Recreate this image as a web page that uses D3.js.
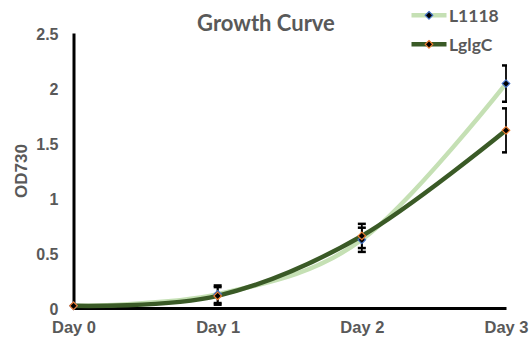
<!DOCTYPE html>
<html>
<head>
<meta charset="utf-8">
<script src="https://cdn.jsdelivr.net/npm/d3@7"></script>
<style>
  html, body { margin: 0; padding: 0; background: #fff; }
  svg { display: block; }
</style>
</head>
<body>
<svg id="chart" width="529" height="341"></svg>
<script>
// Optical density over four days for two strains (mean ± error)
const days = ["Day 0", "Day 1", "Day 2", "Day 3"];
const l1118Values = [0.02, 0.125, 0.62, 2.04];
const l1118Errors = [0, 0.08, 0.11, 0.165];
const lglgcValues = [0.02, 0.11, 0.655, 1.615];
const lglgcErrors = [0, 0.08, 0.11, 0.2];
const yTicks = [0, 0.5, 1, 1.5, 2, 2.5];

const series = [
  { name: "L1118", values: l1118Values, errors: l1118Errors, line: "#c5e0b4", marker: "#4472c4" },
  { name: "LglgC", values: lglgcValues, errors: lglgcErrors, line: "#3a5a26", marker: "#ed7d31" }
];

const textGray = "#595959";
const svg = d3.select("#chart");
const plot = { left: 73.5, right: 506, top: 33, bottom: 308 };

const x = d3.scalePoint().domain(days).range([plot.left, plot.right]);
const y = d3.scaleLinear().domain([0, 2.5]).range([plot.bottom, plot.top]);

// Title
svg.append("text")
  .attr("x", 266).attr("y", 31)
  .attr("text-anchor", "middle")
  .attr("font-family", "Lato, 'Open Sans', sans-serif")
  .attr("font-weight", "bold")
  .attr("font-size", 22)
  .attr("fill", textGray)
  .text("Growth Curve");

// Y axis
const yAxis = svg.append("g")
  .attr("transform", `translate(${plot.left},0)`)
  .call(d3.axisLeft(y).tickValues(yTicks).tickSize(0).tickSizeOuter(0).tickPadding(15).tickFormat(d3.format("")));
yAxis.select(".domain").attr("stroke", "#000").attr("stroke-width", 3);
yAxis.selectAll("text")
  .attr("font-family", "'Liberation Sans', Arial, sans-serif")
  .attr("font-weight", "bold")
  .attr("font-size", 16)
  .attr("fill", textGray)
  .attr("dy", "0.42em");

// X axis
const xAxis = svg.append("g")
  .attr("transform", `translate(0,${plot.bottom})`)
  .call(d3.axisBottom(x).tickSize(0).tickSizeOuter(0).tickPadding(13));
xAxis.select(".domain").attr("stroke", "#000").attr("stroke-width", 3);
xAxis.selectAll("text")
  .attr("font-family", "'Liberation Sans', Arial, sans-serif")
  .attr("font-weight", "bold")
  .attr("font-size", 16.5)
  .attr("fill", textGray);

// Y axis title
svg.append("text")
  .attr("transform", `translate(27,171) rotate(-90)`)
  .attr("text-anchor", "middle")
  .attr("font-family", "'Liberation Sans', Arial, sans-serif")
  .attr("font-weight", "bold")
  .attr("font-size", 17)
  .attr("fill", textGray)
  .text("OD730");

// Error bars are clipped at the right edge of the plot area
svg.append("clipPath").attr("id", "plot-clip")
  .append("rect")
  .attr("x", 0).attr("y", 0)
  .attr("width", plot.right + 1).attr("height", 341);

// Smoothed lines
const line = d3.line()
  .x((d, i) => x(days[i]))
  .y(d => y(d))
  .curve(d3.curveCardinal.tension(0));

series.forEach(s => {
  svg.append("path")
    .datum(s.values)
    .attr("d", line)
    .attr("fill", "none")
    .attr("stroke", s.line)
    .attr("stroke-width", 4.5)
    .attr("stroke-linecap", "round");
});

// Error bars
const capHalf = 4;
const errGroup = svg.append("g").attr("clip-path", "url(#plot-clip)");
series.forEach(s => {
  s.values.forEach((v, i) => {
    const e = s.errors[i];
    if (!e) return;
    const cx = x(days[i]);
    const g = errGroup.append("g").attr("stroke", "#000");
    g.append("line")
      .attr("x1", cx).attr("x2", cx)
      .attr("y1", y(v + e)).attr("y2", y(v - e))
      .attr("stroke-width", 1.8);
    [v + e, v - e].forEach(val => {
      g.append("line")
        .attr("x1", cx - capHalf).attr("x2", cx + capHalf)
        .attr("y1", y(val)).attr("y2", y(val))
        .attr("stroke-width", 2.5);
    });
  });
});

// Diamond markers
const diamond = d3.symbol().type(d3.symbolDiamond2).size(36);
series.forEach(s => {
  svg.append("g").selectAll("path")
    .data(s.values)
    .join("path")
    .attr("d", diamond)
    .attr("transform", (d, i) => `translate(${x(days[i])},${y(d)})`)
    .attr("fill", "#000")
    .attr("stroke", s.marker)
    .attr("stroke-width", 1.2);
});

// Legend
const legendRows = [15.3, 44.3];
series.forEach((s, k) => {
  const ly = legendRows[k];
  const g = svg.append("g");
  g.append("line")
    .attr("x1", 411.5).attr("x2", 446.5)
    .attr("y1", ly).attr("y2", ly)
    .attr("stroke", s.line)
    .attr("stroke-width", 4.5);
  g.append("path")
    .attr("d", diamond)
    .attr("transform", `translate(429,${ly})`)
    .attr("fill", "#000")
    .attr("stroke", s.marker)
    .attr("stroke-width", 1.2);
  g.append("text")
    .attr("x", 449).attr("y", ly + 6.5)
    .attr("font-family", "Lato, 'Open Sans', sans-serif")
    .attr("font-weight", "bold")
    .attr("font-size", 17.5)
    .attr("fill", textGray)
    .text(s.name);
});
</script>
</body>
</html>
